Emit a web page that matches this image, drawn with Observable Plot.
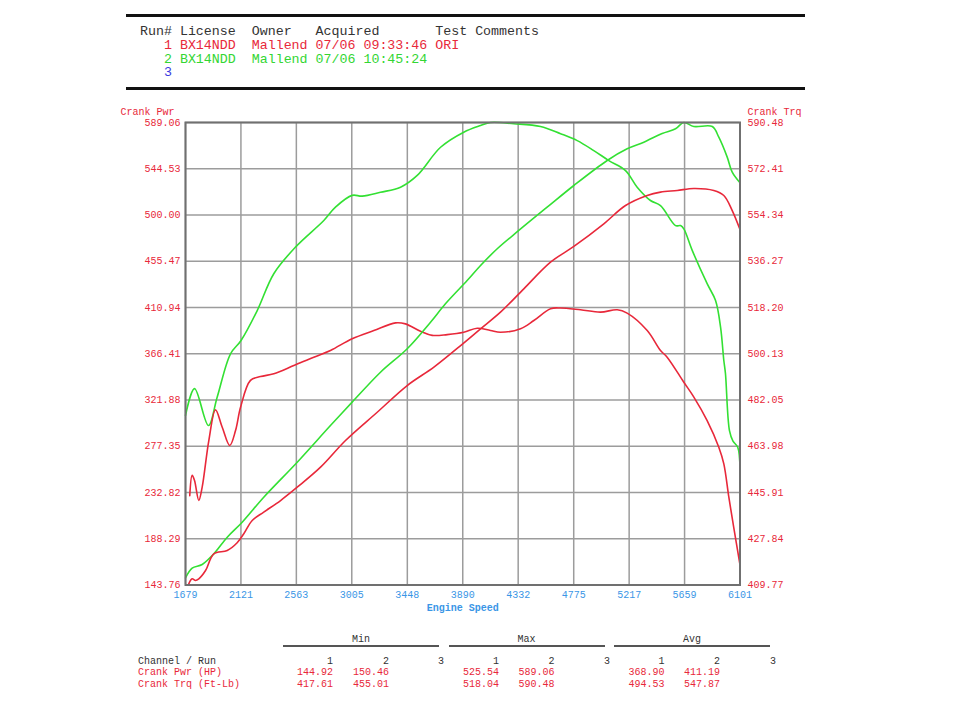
<!DOCTYPE html>
<html><head><meta charset="utf-8">
<script src="https://cdn.jsdelivr.net/npm/d3@7"></script>
<script src="https://cdn.jsdelivr.net/npm/@observablehq/plot@0.6"></script>
<style>
body{margin:0;background:#fff;}
#wrap{position:relative;width:960px;height:720px;overflow:hidden;font-family:"Liberation Mono","DejaVu Sans Mono",monospace;}
#chart{position:absolute;left:0;top:0;}
.rule{position:absolute;left:126px;width:679px;height:3px;background:#111;}
#runs{position:absolute;left:140px;top:25px;margin:0;font-family:"Liberation Mono",monospace;font-size:13.3px;line-height:13.8px;}
.abs{position:absolute;white-space:pre;font-size:10px;line-height:12px;}
.grp{position:absolute;height:2px;background:#555;}
</style></head>
<body>
<div id="wrap">
  <div class="rule" style="top:14px"></div>
  <div class="rule" style="top:87px"></div>
  <pre id="runs"></pre>
  <div id="chart"></div>
  <div id="foot"></div>
</div>
<script>
// ---- header table ----
const runNums   = ["1", "2", "3"];
const licenses  = ["BX14NDD", "BX14NDD", ""];
const owners    = ["Mallend", "Mallend", ""];
const acquired  = ["07/06 09:33:46", "07/06 10:45:24", ""];
const comments  = ["ORI", "", ""];
const runColors = ["#e8283a", "#33d633", "#3a3ae0"];

// ---- axes ----
const xTicks   = [1679, 2121, 2563, 3005, 3448, 3890, 4332, 4775, 5217, 5659, 6101];
const pwrTicks = [143.76, 188.29, 232.82, 277.35, 321.88, 366.41, 410.94, 455.47, 500.00, 544.53, 589.06];
const trqTicks = [409.77, 427.84, 445.91, 463.98, 482.05, 500.13, 518.20, 536.27, 554.34, 572.41, 590.48];

// ---- series: [engine speed, value] ----
const run1Pwr = [[1705,144.9],[1732,149.7],[1759,148.1],[1785,149.7],[1839,157.7],[1905,173.8],[2012,177.0],[2091,184.5],[2144,193.1],[2211,205.9],[2303,213.9],[2437,225.1],[2570,237.9],[2756,257.2],[2955,282.9],[3208,310.1],[3447,335.8],[3660,353.5],[3890,376.0],[4032,390.4],[4191,406.4],[4377,428.9],[4590,454.6],[4776,469.7],[5015,491.5],[5188,509.1],[5361,518.8],[5467,522.0],[5600,523.6],[5733,525.5],[5892,523.6],[5972,518.8],[6039,504.3],[6101,486.0]];
const run2Pwr = [[1679,150.5],[1732,159.9],[1812,163.5],[1905,173.8],[2012,189.8],[2131,204.2],[2303,228.3],[2570,262.0],[2835,297.3],[3008,319.8],[3234,348.6],[3447,371.2],[3633,396.8],[3752,414.5],[3925,436.9],[4032,451.4],[4165,467.5],[4337,485.1],[4563,507.5],[4776,528.4],[5042,552.5],[5201,563.7],[5334,570.1],[5480,578.5],[5587,583.0],[5653,589.06],[5733,585.2],[5880,585.2],[5932,574.9],[5999,555.7],[6039,541.2],[6101,531.0]];
const run1Trq = [[1713,444.7],[1732,452.6],[1751,450.6],[1785,442.8],[1812,448.0],[1865,466.2],[1918,478.2],[1972,471.4],[2032,464.3],[2078,470.1],[2118,479.2],[2197,489.7],[2277,491.2],[2383,492.3],[2543,495.5],[2702,498.8],[2835,501.4],[3008,506.0],[3181,509.2],[3354,512.2],[3433,511.8],[3553,508.9],[3646,507.3],[3766,507.6],[3898,508.5],[4005,510.1],[4111,509.2],[4191,508.5],[4351,509.9],[4457,513.1],[4590,517.7],[4670,518.0],[4829,517.3],[4989,516.4],[5122,517.3],[5201,516.0],[5361,509.2],[5467,501.4],[5520,498.8],[5653,489.0],[5733,483.2],[5839,474.0],[5932,463.6],[5972,457.1],[6012,444.1],[6051,432.3],[6101,417.6]];
const run2Trq = [[1679,476.0],[1751,486.5],[1862,472.1],[1932,483.2],[2038,500.1],[2122,505.3],[2251,517.0],[2383,531.4],[2556,541.8],[2782,552.2],[2875,557.4],[3008,562.0],[3088,561.7],[3234,563.2],[3394,565.2],[3527,569.8],[3713,580.8],[3898,586.7],[4032,589.3],[4111,590.48],[4297,590.0],[4510,588.9],[4670,586.1],[4803,583.4],[4935,579.5],[5055,575.6],[5188,571.7],[5281,565.2],[5387,560.0],[5467,558.0],[5587,550.2],[5627,550.2],[5653,548.9],[5720,540.5],[5839,527.5],[5906,520.9],[5946,510.5],[5972,497.5],[5985,492.4],[6017,470.1],[6045,466.0],[6083,463.6],[6101,455.0]];

// ---- summary table ----
const statGroups = ["Min", "Max", "Avg"];
const channels   = ["Crank Pwr (HP)", "Crank Trq (Ft-Lb)"];
const minVals = [["144.92", "150.46"], ["417.61", "455.01"]];
const maxVals = [["525.54", "589.06"], ["518.04", "590.48"]];
const avgVals = [["368.90", "411.19"], ["494.53", "547.87"]];

const RED = "#e8283a", GREEN = "#33e033", BLUE = "#3a96e6";

// header
const pad = (s, n) => (s + " ".repeat(n)).slice(0, n);
let html = '<span style="color:#333">' + "Run# License  Owner   Acquired       Test Comments" + "</span>\n";
runNums.forEach((r, i) => {
  const line = "   " + r + " " + pad(licenses[i], 9) + pad(owners[i], 8) + pad(acquired[i], 15) + comments[i];
  html += '<span style="color:' + runColors[i] + '">' + line.replace(/\s+$/, "") + "</span>\n";
});
document.getElementById("runs").innerHTML = html;

// dual axis: map torque onto power scale
const k = (pwrTicks[10] - pwrTicks[0]) / (trqTicks[10] - trqTicks[0]);
const t2p = t => pwrTicks[0] + (t - trqTicks[0]) * k;
const trqPos = trqTicks.map(t2p);

const chart = Plot.plot({
  width: 960, height: 720,
  marginLeft: 185, marginRight: 220.5, marginTop: 122, marginBottom: 135.5,
  style: {fontFamily: "Liberation Mono, monospace", fontSize: "10px", background: "transparent"},
  x: {domain: [xTicks[0], xTicks[10]]},
  y: {domain: [pwrTicks[0], pwrTicks[10]]},
  marks: [
    Plot.gridX(xTicks, {stroke: "#9c9c9c", strokeOpacity: 1, strokeWidth: 1.5}),
    Plot.gridY(pwrTicks, {stroke: "#9c9c9c", strokeOpacity: 1, strokeWidth: 1.5}),
    Plot.line(run2Trq, {x: d => d[0], y: d => t2p(d[1]), stroke: GREEN, strokeWidth: 1.6, curve: "catmull-rom"}),
    Plot.line(run1Trq, {x: d => d[0], y: d => t2p(d[1]), stroke: RED, strokeWidth: 1.6, curve: "catmull-rom"}),
    Plot.line(run2Pwr, {x: d => d[0], y: d => d[1], stroke: GREEN, strokeWidth: 1.6, curve: "catmull-rom"}),
    Plot.line(run1Pwr, {x: d => d[0], y: d => d[1], stroke: RED, strokeWidth: 1.6, curve: "catmull-rom"}),
    Plot.frame({stroke: "#707070", strokeWidth: 2}),
    Plot.axisX({ticks: xTicks, tickSize: 0, tickPadding: 6, tickFormat: d => String(d), fill: BLUE, label: null}),
    Plot.axisY({anchor: "left", ticks: pwrTicks, tickSize: 0, tickPadding: 5, tickFormat: d => d.toFixed(2), fill: RED, label: null}),
    Plot.axisY({anchor: "right", ticks: trqPos, tickSize: 0, tickPadding: 7.5,
      tickFormat: d => trqTicks[trqPos.findIndex(p => Math.abs(p - d) < 1e-6)].toFixed(2), fill: RED, label: null}),
    Plot.text(["Crank Pwr"], {frameAnchor: "top-left", dx: -65, dy: -11, textAnchor: "start", lineAnchor: "middle", fill: RED}),
    Plot.text(["Crank Trq"], {frameAnchor: "top-right", dx: 7.5, dy: -11, textAnchor: "start", lineAnchor: "middle", fill: RED}),
    Plot.text(["Engine Speed"], {frameAnchor: "bottom", dy: 22.5, lineAnchor: "middle", fill: BLUE, fontWeight: "bold"})
  ]
});
document.getElementById("chart").appendChild(chart);

// footer
const foot = document.getElementById("foot");
function put(text, x, y, color, align) {
  const d = document.createElement("div");
  d.className = "abs";
  d.textContent = text;
  d.style.top = (y - 6) + "px";
  d.style.left = x + "px";
  d.style.color = color;
  if (align === "right") d.style.transform = "translateX(-100%)";
  if (align === "center") d.style.transform = "translateX(-50%)";
  foot.appendChild(d);
}
const groupLeft = [283, 448.5, 614];
const groupWidth = 156;
const colRight = [[333, 389, 444], [499, 554.5, 610], [664.5, 720, 776]];
const allVals = [minVals, maxVals, avgVals];
statGroups.forEach((g, gi) => {
  put(g, groupLeft[gi] + groupWidth / 2, 639.5, "#333", "center");
  const ln = document.createElement("div");
  ln.className = "grp";
  ln.style.left = groupLeft[gi] + "px"; ln.style.width = groupWidth + "px"; ln.style.top = "644.5px";
  foot.appendChild(ln);
  runNums.forEach((r, ri) => put(r, colRight[gi][ri], 661.5, "#333", "right"));
  channels.forEach((c, ci) => {
    allVals[gi][ci].forEach((v, ri) => put(v, colRight[gi][ri], 673 + ci * 11.5, RED, "right"));
  });
});
put("Channel / Run", 138, 661.5, "#333", "left");
channels.forEach((c, ci) => put(c, 138, 673 + ci * 11.5, RED, "left"));
</script>
</body></html>
